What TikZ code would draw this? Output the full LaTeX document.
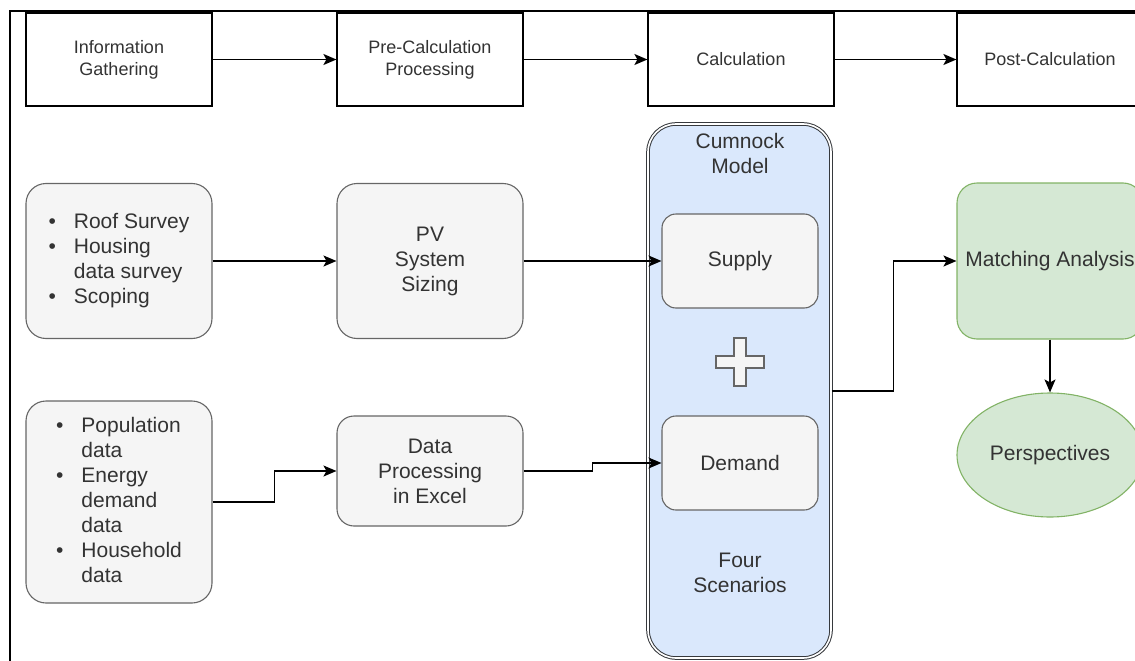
\documentclass[tikz,border=0pt]{standalone}
\usepackage{fontspec}
\setmainfont{Liberation Sans}
\usepackage{tikz}
\usetikzlibrary{arrows.meta, positioning, shapes.geometric}

\definecolor{boxgray}{HTML}{F5F5F5}
\definecolor{linegray}{HTML}{666666}
\definecolor{txtgray}{HTML}{333333}
\definecolor{modelblue}{HTML}{DAE8FC}
\definecolor{modelline}{HTML}{36393D}
\definecolor{matchgreen}{HTML}{D5E8D4}
\definecolor{matchline}{HTML}{82B366}

\tikzset{
  phase/.style={draw=black, fill=white, line width=1.2pt, minimum width=186pt,
    minimum height=93pt, align=center, text=txtgray, font=\fontsize{18}{22}\selectfont},
  greybox/.style={draw=linegray, fill=boxgray, line width=1.1pt, minimum width=186pt,
    align=center, text=txtgray, font=\fontsize{21}{25}\selectfont},
  greenbox/.style={draw=matchline, fill=matchgreen, line width=1.1pt, minimum width=186pt,
    align=center, text=txtgray, font=\fontsize{21}{25}\selectfont},
  label/.style={align=center, text=txtgray, font=\fontsize{21}{25}\selectfont},
  flow/.style={->, line width=1.5pt}
}

\begin{document}
\begin{tikzpicture}[x=1pt, y=-1pt, >={Stealth[length=13pt, width=11pt, inset=3pt]}]
  \clip (0,0) rectangle (1135,661);
  % Frame
  \draw[line width=2pt] (10,662) -- (10,11) -- (1136,11);
  % Phases
  \node[phase] (info) at (119,59.5) {Information\\Gathering};
  \node[phase] (pre) at (430,59.5) {Pre-Calculation\\Processing};
  \node[phase] (calc) at (741,59.5) {Calculation};
  \node[phase] (post) at (1050,59.5) {Post-Calculation};
  \draw[flow] (info) -- (pre);
  \draw[flow] (pre) -- (calc);
  \draw[flow] (calc) -- (post);
  % Inputs
  \node[greybox, minimum height=155pt, rounded corners=20pt] (survey) at (119,261) {%
    \begin{tabular}{@{}l@{\hspace{18pt}}l@{}}
      \textbullet & Roof Survey\\
      \textbullet & Housing\\
                  & data survey\\
      \textbullet & Scoping
    \end{tabular}};
  \node[greybox, minimum height=202pt, rounded corners=20pt] (census) at (119,502) {%
    \begin{tabular}{@{}l@{\hspace{18pt}}l@{}}
      \textbullet & Population\\
                  & data\\
      \textbullet & Energy\\
                  & demand\\
                  & data\\
      \textbullet & Household\\
                  & data
    \end{tabular}};
  % Pre-calculation
  \node[greybox, minimum height=155pt, rounded corners=20pt] (pv) at (430,261) {PV\\System\\Sizing};
  \node[greybox, minimum height=110pt, rounded corners=17pt] (excel) at (430,471) {Data\\Processing\\in Excel};
  % Cumnock model
  \node[draw=modelline, fill=modelblue, line width=1pt, double=white, double distance=1.6pt,
    rounded corners=28pt, minimum width=183pt, minimum height=534pt] (model) at (739.5,391) {};
  \node[label] (modeltitle) at (740,153) {Cumnock\\Model};
  \node[greybox, minimum width=156pt, minimum height=94pt, rounded corners=14pt] (supply) at (740,261) {Supply};
  \node[greybox, minimum width=156pt, minimum height=94pt, rounded corners=14pt] (demand) at (740,463) {Demand};
  \node[label] (scenarios) at (740,573) {Four\\Scenarios};
  \draw[draw=linegray, fill=boxgray, line width=1.1pt]
    (734,338) -- (746,338) -- (746,356) -- (764,356) -- (764,368) -- (746,368) --
    (746,386) -- (734,386) -- (734,368) -- (716,368) -- (716,356) -- (734,356) -- cycle;
  % Post-calculation
  \node[greenbox, minimum height=156pt, rounded corners=20pt] (match) at (1050,261) {Matching Analysis};
  \node[greenbox, ellipse, minimum height=124pt] (persp) at (1050,455) {Perspectives};
  % Connectors
  \draw[flow] (survey) -- (pv);
  \draw[flow] (pv) -- (supply);
  \draw[flow] (census.east) -- ++(62,0) |- (excel.west);
  \draw[flow] (excel.east) -- ++(69,0) |- (demand.west);
  \draw[flow] (model.east) -- ++(62,0) |- (match.west);
  \draw[flow] (match) -- (persp);
\end{tikzpicture}
\end{document}
